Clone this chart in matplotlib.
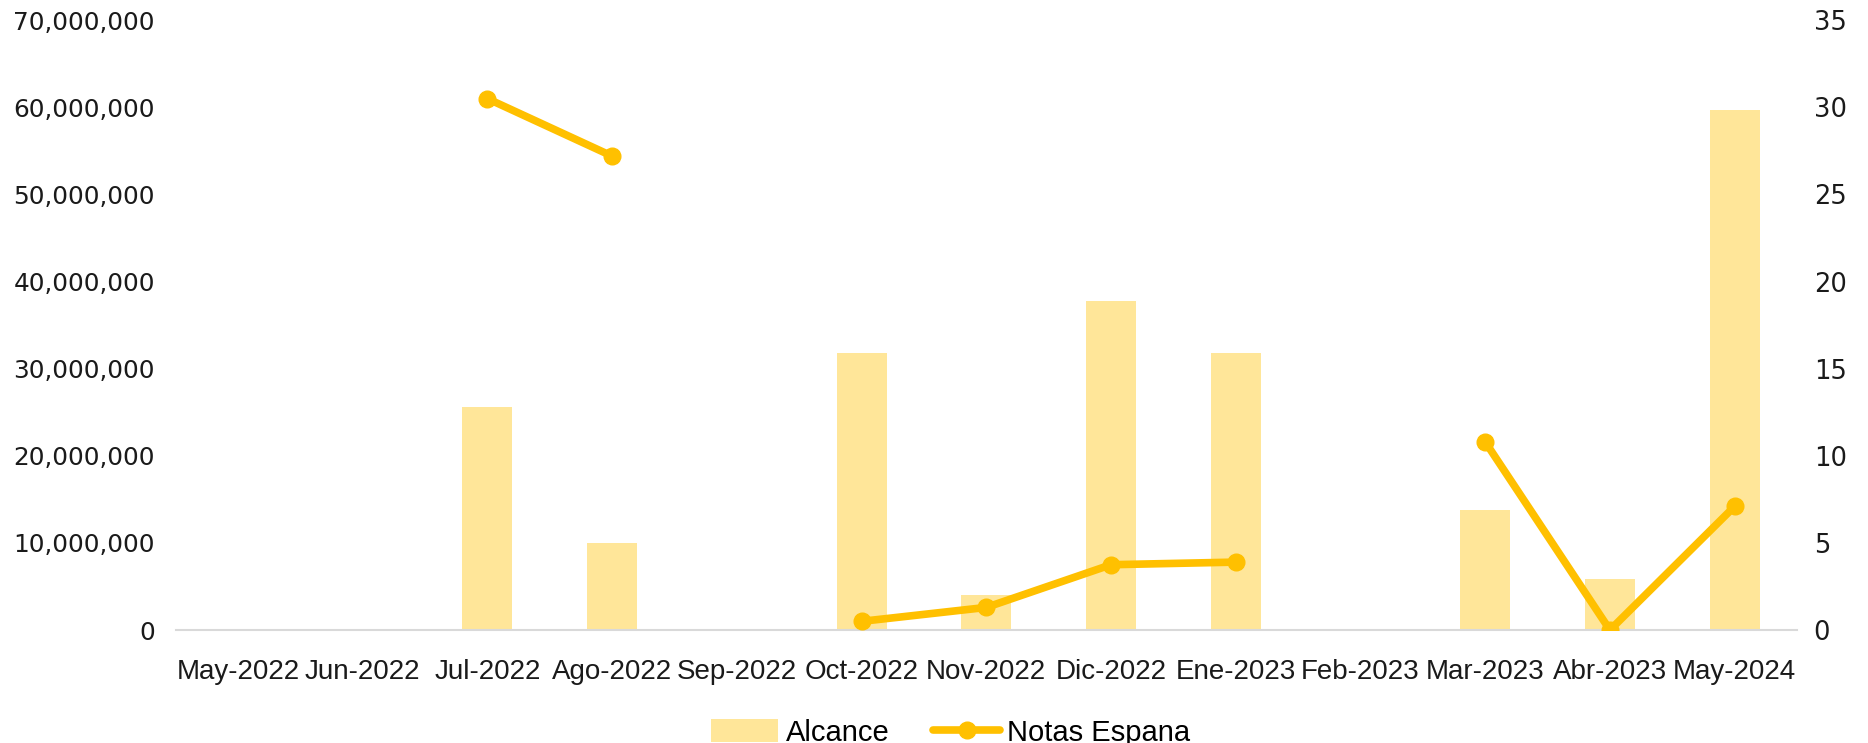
import numpy as np
import matplotlib.pyplot as plt
from matplotlib import font_manager

months = ['May-2022', 'Jun-2022', 'Jul-2022', 'Ago-2022', 'Sep-2022', 'Oct-2022', 'Nov-2022',
          'Dic-2022', 'Ene-2023', 'Feb-2023', 'Mar-2023', 'Abr-2023', 'May-2024']
# reach per month (left axis)
alcance = [0, 0, 25.6e6, 10.0e6, 0, 31.8e6, 4.0e6, 37.8e6, 31.8e6, 0, 13.8e6, 5.9e6, 59.7e6]
# notes per month (right axis), blanks where there was no data
notas = [np.nan, np.nan, 30.5, 27.2, np.nan, 0.5, 1.3, 3.75, 3.9, np.nan, 10.8, 0.0, 7.1]

left_ticks = list(range(0, 70000001, 10000000))
right_ticks = list(range(0, 36, 5))

names = {f.name for f in font_manager.fontManager.ttflist}
narrow = 'Liberation Sans Narrow' if 'Liberation Sans Narrow' in names else 'Liberation Sans'

bar_col = '#FFE699'
line_col = '#FFC000'
txt_col = '#1a1a1a'

fig = plt.figure(figsize=(18.68, 7.43), dpi=100)
ax = fig.add_axes([0.094, 0.152, 0.868, 0.8208])
x = np.arange(len(months))

ax.bar(x, alcance, width=0.4, color=bar_col, label='Alcance', zorder=2)
ax.set_xlim(-0.5, len(months) - 0.5)
ax.set_ylim(0, 70000000)
ax.set_yticks(left_ticks)
ax.set_yticklabels([f'{v:,}' for v in left_ticks], fontsize=17.8, color=txt_col, family='DejaVu Sans')
ax.set_xticks(x)
ax.set_xticklabels(months, fontsize=20, color=txt_col, family=narrow)
ax.tick_params(axis='both', length=0)
ax.tick_params(axis='y', pad=15)
ax.tick_params(axis='x', pad=21)
for s in ['top', 'left', 'right']:
    ax.spines[s].set_visible(False)
ax.spines['bottom'].set_color('#D9D9D9')
ax.spines['bottom'].set_linewidth(1.5)

ax2 = ax.twinx()
ax2.plot(x, notas, color=line_col, lw=5.5, marker='o', markersize=12,
         solid_capstyle='round', label='Notas Espana', zorder=3)
ax2.set_ylim(0, 35)
ax2.set_yticks(right_ticks)
ax2.set_yticklabels([str(v) for v in right_ticks], fontsize=18.5, color=txt_col, family='DejaVu Sans')
ax2.tick_params(axis='y', length=0, pad=12)
for s in ['top', 'left', 'right', 'bottom']:
    ax2.spines[s].set_visible(False)

h1, l1 = ax.get_legend_handles_labels()
h2, l2 = ax2.get_legend_handles_labels()
fig.legend(h1 + h2, l1 + l2, loc='center', bbox_to_anchor=(0.509, 0.014), ncol=2,
           frameon=False, prop={'family': narrow, 'size': 21}, handlelength=2.3,
           handleheight=0.8, columnspacing=1.5, handletextpad=0.25)

fig.savefig('out.png', dpi=100)
